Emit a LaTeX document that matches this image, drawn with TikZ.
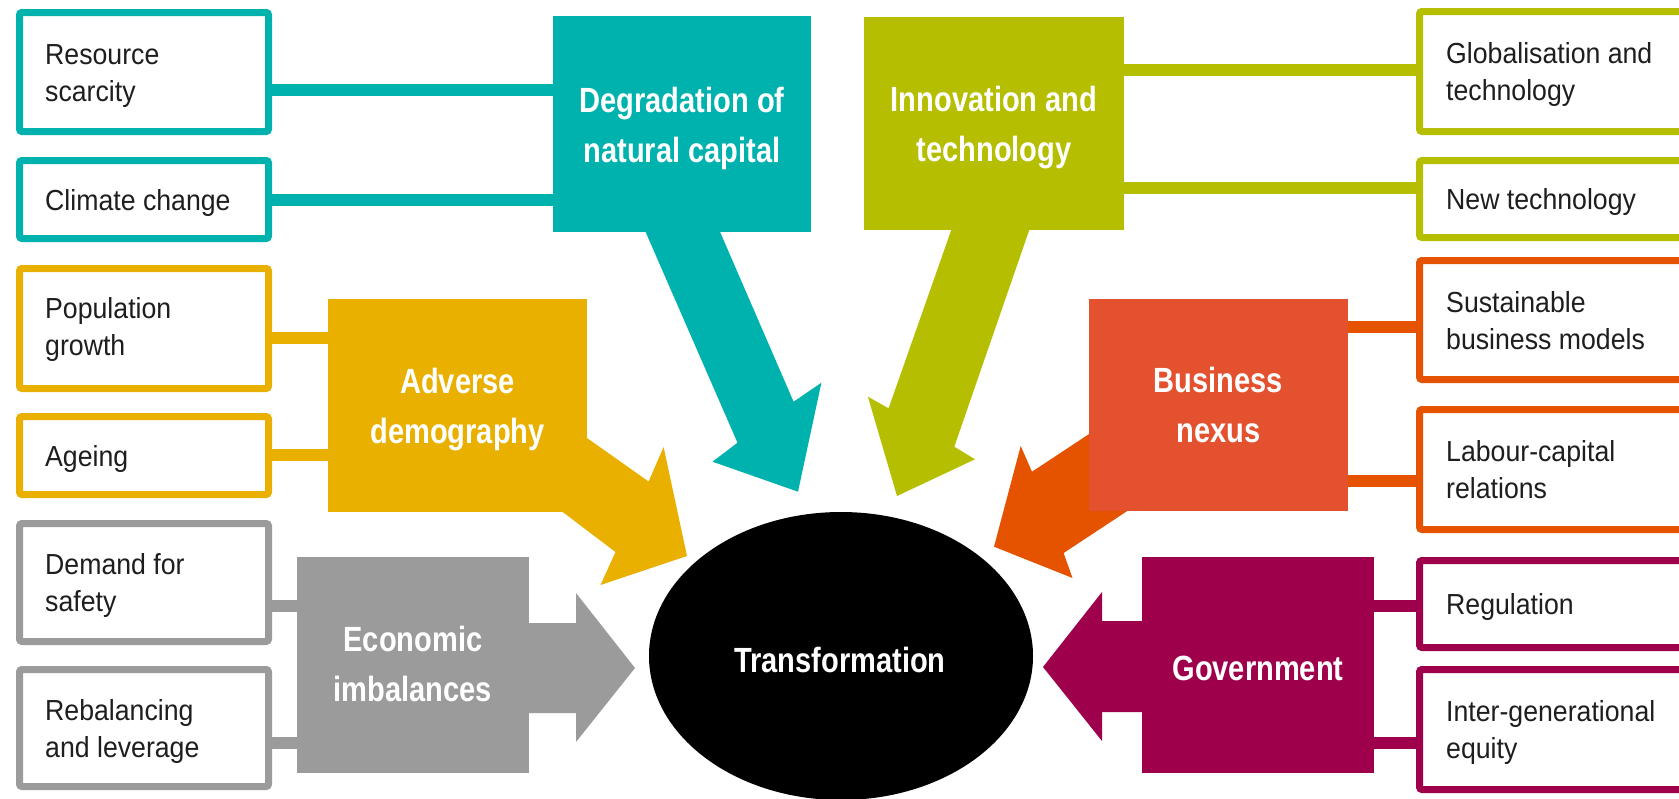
\documentclass[tikz,border=0pt]{standalone}
\usepackage{fontspec}
\setmainfont{Liberation Sans}
\newfontfamily\bodyfont{Liberation Sans}[FakeStretch=0.92]
\newfontfamily\headfont{Liberation Sans}[FakeStretch=0.83]
\usetikzlibrary{shapes.geometric,backgrounds}
\definecolor{cteal}{HTML}{00B2AD}
\definecolor{colive}{HTML}{B5BE00}
\definecolor{cgold}{HTML}{EAB000}
\definecolor{cgray}{HTML}{9B9B9B}
\definecolor{ccoral}{HTML}{E4512F}
\definecolor{corange}{HTML}{E55300}
\definecolor{cmag}{HTML}{9E004B}
\definecolor{ctext}{HTML}{1E1E1E}
\newcommand\ltab[1]{\begin{tabular}[t]{@{}l@{}}#1\end{tabular}}
\newcommand\ctab[1]{\begin{tabular}[t]{@{}c@{}}#1\end{tabular}}
\tikzset{
  wbox/.style={draw=#1, fill=white, line width=7pt, rounded corners=2.5pt, inner sep=0pt, outer sep=0pt},
  lbox/.style={wbox=#1, minimum width=249pt},
  rbox/.style={wbox=#1, minimum width=284pt},
  gbox/.style={fill=#1, inner sep=0pt, outer sep=0pt},
  conn/.style={draw=#1, line width=12pt},
  body/.style={font=\bodyfont\fontsize{29pt}{37pt}\selectfont, text=ctext, inner sep=0pt, anchor=base west},
  head/.style={font=\headfont\bfseries\fontsize{35pt}{50pt}\selectfont, text=white, inner sep=0pt, anchor=base},
}
\begin{document}
\begin{tikzpicture}[x=1pt,y=-1pt]
\useasboundingbox (0,0) rectangle (1679,798);
\clip (0,0) rectangle (1679,798);

% left boxes
\node[lbox=cteal, minimum height=119pt] (rs) at (144,72) {};
\node[lbox=cteal, minimum height=78pt] (cc) at (144,199.5) {};
\node[lbox=cgold, minimum height=120pt] (pg) at (144,328.5) {};
\node[lbox=cgold, minimum height=78pt] (ag) at (144,455.5) {};
\node[lbox=cgray, minimum height=118pt] (ds) at (144,582.5) {};
\node[lbox=cgray, minimum height=117pt] (rl) at (144,728) {};
% right boxes
\node[rbox=colive, minimum height=120pt] (gt) at (1561.5,71.5) {};
\node[rbox=colive, minimum height=77pt] (nt) at (1561.5,199) {};
\node[rbox=corange, minimum height=119pt] (sb) at (1561.5,320) {};
\node[rbox=corange, minimum height=120pt] (lc) at (1561.5,469.5) {};
\node[rbox=cmag, minimum height=87pt] (rg) at (1561.5,604) {};
\node[rbox=cmag, minimum height=120pt] (ie) at (1561.5,729.5) {};

% labels
\node[body] (rs-t) at (45,64) {\ltab{Resource\\scarcity}};
\node[body] (cc-t) at (45,210) {\ltab{Climate change}};
\node[body] (pg-t) at (45,318) {\ltab{Population\\growth}};
\node[body] (ag-t) at (45,466) {\ltab{Ageing}};
\node[body] (ds-t) at (45,574.5) {\ltab{Demand for\\safety}};
\node[body] (rl-t) at (45,720) {\ltab{Rebalancing\\and leverage}};
\node[body] (gt-t) at (1446,63) {\ltab{Globalisation and\\technology}};
\node[body] (nt-t) at (1446,209.5) {\ltab{New technology}};
\node[body] (sb-t) at (1446,312) {\ltab{Sustainable\\business models}};
\node[body] (lc-t) at (1446,461.5) {\ltab{Labour-capital\\relations}};
\node[body] (rg-t) at (1446,614.5) {\ltab{Regulation}};
\node[body] (ie-t) at (1446,721.5) {\ltab{Inter-generational\\equity}};

% group boxes
\node[gbox=cteal, minimum width=258pt, minimum height=216pt] (deg) at (682,124) {};
\node[gbox=colive, minimum width=260pt, minimum height=213pt] (inn) at (994,123.5) {};
\node[gbox=cgold, minimum width=259pt, minimum height=213pt] (adv) at (457.5,405.5) {};
\node[gbox=ccoral, minimum width=259pt, minimum height=212pt] (bus) at (1218.5,405) {};
\node[gbox=cgray, minimum width=232pt, minimum height=216pt] (eco) at (413,665) {};
\node[gbox=cmag, minimum width=232pt, minimum height=216pt] (gov) at (1258,665) {};

\node[head] (deg-t) at (682,112) {\ctab{Degradation of\\natural capital}};
\node[head] (inn-t) at (994,111) {\ctab{Innovation and\\technology}};
\node[head] (adv-t) at (457.5,393) {\ctab{Adverse\\demography}};
\node[head] (bus-t) at (1218.5,392.5) {\ctab{Business\\nexus}};
\node[head] (eco-t) at (413,651) {\ctab{Economic\\imbalances}};
\node[head] (gov-t) at (1258,680) {\ctab{Government}};

% centre
\node[ellipse, fill=black, minimum width=384pt, minimum height=288pt, inner sep=0pt] (tr) at (841,656) {};
\node[head] (tr-t) at (840,672) {\ctab{Transformation}};

\begin{scope}[on background layer]
  % connectors
  \draw[conn=cteal] (rs.east |- 0,90) -- (deg.west |- 0,90);
  \draw[conn=cteal] (cc.east |- 0,200) -- (deg.west |- 0,200);
  \draw[conn=colive] (inn.east |- 0,70) -- (gt.west |- 0,70);
  \draw[conn=colive] (inn.east |- 0,188) -- (nt.west |- 0,188);
  \draw[conn=cgold] (pg.east |- 0,338) -- (adv.west |- 0,338);
  \draw[conn=cgold] (ag.east |- 0,455) -- (adv.west |- 0,455);
  \draw[conn=corange] (bus.east |- 0,327) -- (sb.west |- 0,327);
  \draw[conn=corange] (bus.east |- 0,481) -- (lc.west |- 0,481);
  \draw[conn=cgray] (ds.east |- 0,606) -- (eco.west |- 0,606);
  \draw[conn=cgray] (rl.east |- 0,743) -- (eco.west |- 0,743);
  \draw[conn=cmag] (gov.east |- 0,606) -- (rg.west |- 0,606);
  \draw[conn=cmag] (gov.east |- 0,743) -- (ie.west |- 0,743);
  % arrows
  \fill[cteal] (643,226) -- (737.5,442.7) -- (712.5,461.7) -- (798,491.7) -- (821.4,382.7) -- (793.6,401.7) -- (717.5,226) -- cycle;
  \fill[colive] (953,225) -- (888.6,408.3) -- (867.9,396.7) -- (897,496) -- (975,459.3) -- (954.3,446.7) -- (1031,225) -- cycle;
  \fill[cgold] (570,426) -- (648.6,481.5) -- (663.6,447) -- (687,556) -- (600.5,585) -- (615.5,552) -- (550,502.4) -- cycle;
  \fill[corange] (1110,420.2) -- (1032,471.7) -- (1020.7,446) -- (994,546.7) -- (1072.5,578) -- (1063.6,553) -- (1140,502.6) -- cycle;
  \fill[cgray] (520,623) -- (576,623) -- (576,593) -- (635,668) -- (576,742) -- (576,713) -- (520,713) -- cycle;
  \fill[cmag] (1150,621) -- (1102,621) -- (1102,592) -- (1043,667) -- (1102,741) -- (1102,712) -- (1150,712) -- cycle;
\end{scope}
\end{tikzpicture}
\end{document}
